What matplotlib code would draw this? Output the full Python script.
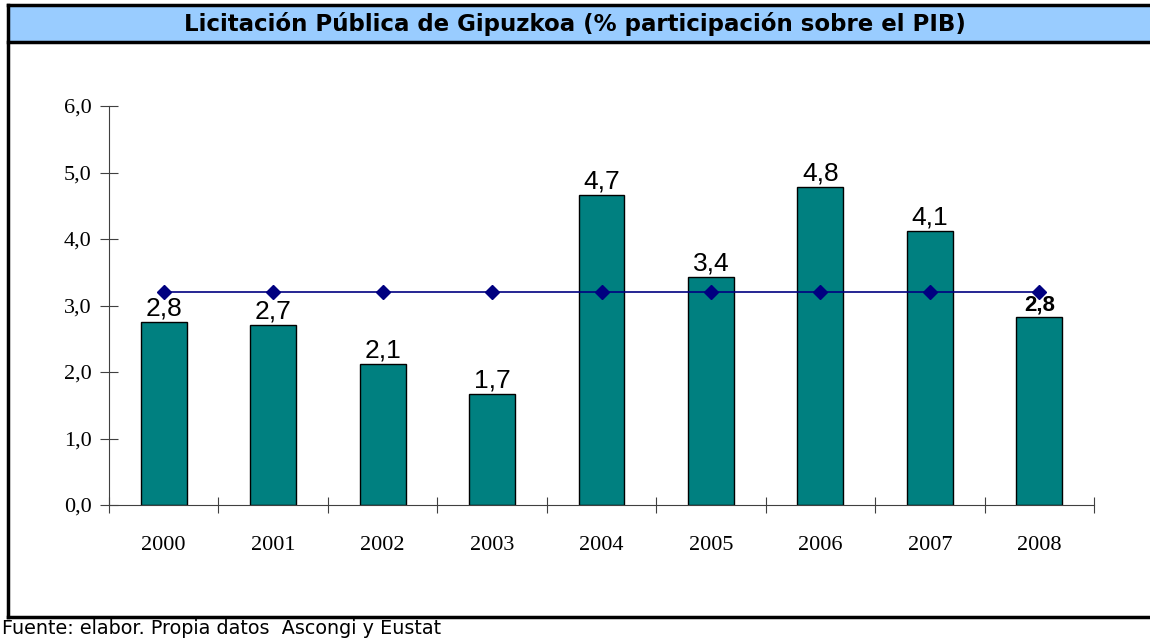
import matplotlib.pyplot as plt
from matplotlib.patches import Rectangle
from matplotlib.lines import Line2D

# Data
years = ["2000", "2001", "2002", "2003", "2004", "2005", "2006", "2007", "2008"]
share_pib = [2.75, 2.71, 2.12, 1.67, 4.66, 3.43, 4.78, 4.12, 2.82]
bar_labels = ["2,8", "2,7", "2,1", "1,7", "4,7", "3,4", "4,8", "4,1", "2,8"]
average = [3.2] * len(years)
y_ticks = [0, 1, 2, 3, 4, 5, 6]
y_tick_labels = ["0,0", "1,0", "2,0", "3,0", "4,0", "5,0", "6,0"]

W, H = 1150, 639
fig = plt.figure(figsize=(W / 100, H / 100), dpi=100)

# frame, title band and footer
fig.patches.append(Rectangle((8 / W, 1 - 42 / H), 1 - 8 / W, 37 / H, transform=fig.transFigure,
                             facecolor="#99CCFF", edgecolor="none"))
for (x0, y0, x1, y1) in [(8, 5, W, 5), (8, 42, W, 42), (8, 5, 8, 617), (8, 617, W, 617)]:
    fig.lines.append(Line2D([x0 / W, x1 / W], [1 - y0 / H, 1 - y1 / H], transform=fig.transFigure,
                            color="black", lw=2.5))
fig.text(0.5, 1 - 24 / H, "Licitación Pública de Gipuzkoa (% participación sobre el PIB)",
         ha="center", va="center", fontsize=16.5, fontweight="bold", family="DejaVu Sans")
fig.text(2 / W, 1 - 629 / H, "Fuente: elabor. Propia datos  Ascongi y Eustat",
         ha="left", va="center", fontsize=13.8, family="DejaVu Sans")

# plot area
ax = fig.add_axes([109 / W, 1 - 505 / H, (1094 - 109) / W, (505 - 106) / H])
x = range(len(years))
ax.bar(x, share_pib, width=0.42, color="#008080", edgecolor="black", linewidth=1, zorder=2)
ax.plot(x, average, color="#000080", lw=1.2, marker="D", markersize=7, zorder=3)

for i, (v, lab) in enumerate(zip(share_pib, bar_labels)):
    if i == len(years) - 1:
        ax.text(i, v + 0.03, lab, ha="center", va="bottom", fontsize=16, fontweight="bold",
                family="Liberation Sans")
    else:
        ax.text(i, v + 0.02, lab, ha="center", va="bottom", fontsize=19, family="Liberation Sans")

ax.set_xlim(-0.5, len(years) - 0.5)
ax.set_ylim(0, 6)
ax.set_yticks(y_ticks)
ax.set_yticklabels(y_tick_labels, family="Liberation Serif", fontsize=16)
ax.set_xticks([i + 0.5 for i in range(-1, len(years))])
ax.set_xticklabels([])
ax.set_xticks(list(x), minor=True)
ax.set_xticklabels(years, minor=True, family="Liberation Serif", fontsize=16)
ax.tick_params(axis="x", which="minor", length=0, pad=22)
ax.tick_params(axis="x", which="major", direction="inout", length=12, color="#404040")
ax.tick_params(axis="y", direction="inout", length=13, color="#404040", pad=6)
for s in ["top", "right"]:
    ax.spines[s].set_visible(False)
for s in ["left", "bottom"]:
    ax.spines[s].set_color("#404040")

fig.savefig("out.png", dpi=100)
